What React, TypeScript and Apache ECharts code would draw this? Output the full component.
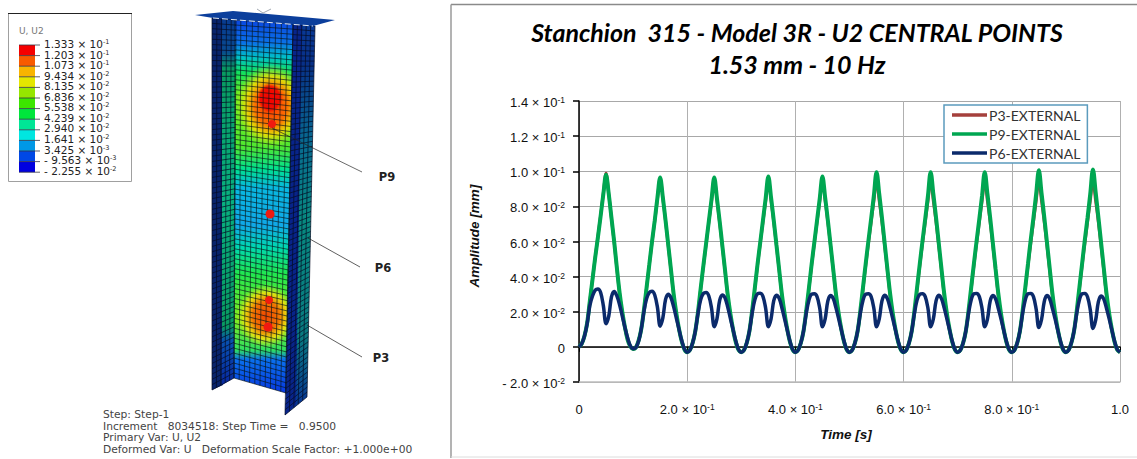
import React, { useEffect, useRef } from "react";
import * as echarts from "echarts";

const STEP = 0.005;
const P3_E3 = [
  0, 1.8, 6, 13.5, 26, 38.5, 51, 63, 75, 87.5, 98.8, 87, 73, 59.5, 44.5, 30.5, 19.5, 10.5, 3.8, 0.2, -1.2,
  -0.4, 3.5, 10, 21, 33.8, 46.8, 59.5, 71.5, 84, 96.2, 84.5, 71.5, 57.5, 43.5, 29.5, 18.5, 9.6, 3, -1.5, -3,
  -1.8, 2.2, 9, 20, 33.2, 46, 58.5, 71, 83, 95.6, 83.5, 70.5, 57, 43, 29, 18, 9.2, 2.5, -1.8, -3,
  -1.8, 2.2, 9, 20.2, 33.2, 46.5, 59, 71, 83, 95.5, 83.5, 71, 57.5, 43.5, 29.5, 18.5, 9.6, 2.7, -1.7, -3,
  -1.8, 2.2, 9, 20.2, 33, 46.5, 59, 71, 83, 95, 83.5, 71, 57.5, 43.5, 29.5, 18.5, 9.6, 2.7, -1.7, -3,
  -1.8, 2.2, 9, 20.2, 33, 46.5, 59, 71, 83, 94.5, 83, 71, 57.5, 43.5, 29.5, 18.5, 9.6, 2.7, -1.7, -3,
  -1.8, 2.2, 9, 20.2, 33, 46.5, 59, 71, 83, 94.5, 83, 71, 57.5, 43.5, 29.5, 18.5, 9.6, 2.7, -1.7, -3,
  -1.8, 2.2, 9, 20.2, 33, 46.5, 59, 71, 83, 94.2, 83, 71, 57.5, 43.5, 29.5, 18.5, 9.6, 2.7, -1.7, -3,
  -1.8, 2.2, 9, 20.2, 33, 46.5, 59, 71, 83, 94.5, 83, 71, 57.5, 43.5, 29.5, 18.5, 9.6, 2.7, -1.7, -3,
  -1.8, 2.2, 9, 20.2, 33, 46.5, 59, 71, 83, 94.2, 83, 71, 57.5, 43.5, 29.5, 18.5, 9.6, 2.7, -1.7, -3,
];
const P9_E3 = [
  0, 1.8, 6, 13.5, 26, 38.5, 51, 62.5, 74.5, 87, 98, 87, 73.5, 60, 45, 31, 20, 11, 4, 0.2, -1.2,
  -0.4, 3.5, 10, 21, 34, 47, 60, 72, 85, 96.4, 85, 72, 58, 44, 30, 19, 10, 3, -1.5, -3,
  -1.8, 2.2, 9, 20, 33.5, 46.5, 59, 71.5, 84, 96.4, 84.5, 71.5, 57.5, 43.5, 29.5, 18.5, 9.5, 2.5, -1.8, -3,
  -1.8, 2.2, 9, 20.5, 33.5, 47, 59.5, 72, 84.5, 97, 85, 72, 58, 44, 30, 19, 10, 2.8, -1.7, -3,
  -1.8, 2.2, 9, 20.5, 33.5, 47, 59.5, 72, 84.5, 97, 85, 72, 58, 44, 30, 19, 10, 2.8, -1.7, -3,
  -1.8, 2.2, 9, 20.5, 34, 47.5, 60.5, 73, 86, 99.5, 87, 73.5, 59, 44.5, 30.5, 19, 10, 2.8, -1.7, -3,
  -1.8, 2.2, 9, 20.5, 34, 47.5, 60.5, 73, 86, 99.5, 87, 73.5, 59, 44.5, 30.5, 19, 10, 2.8, -1.7, -3,
  -1.8, 2.2, 9, 20.5, 34, 47.5, 60.5, 73, 86, 99.5, 87, 73.5, 59, 44.5, 30.5, 19, 10, 2.8, -1.7, -3,
  -1.8, 2.2, 9, 20.5, 34, 47.5, 61, 73.5, 87, 100.5, 87.5, 74, 59.5, 45, 30.5, 19, 10, 2.8, -1.7, -3,
  -1.8, 2.2, 9, 20.5, 34, 47.5, 61, 73.5, 87, 101, 88, 74, 59.5, 45, 30.5, 19, 10, 2.8, -1.7, -3,
];
const P6_E3 = [
  0, 1.8, 6, 13, 23.5, 29, 32.3, 33, 31, 23.5, 13.2, 17.5, 28.5, 31.5, 29, 24, 17.5, 11, 5, 0.5, -1,
  -0.4, 3, 10, 20, 27.5, 31, 31.7, 29.5, 22.5, 11.8, 16.5, 27, 30, 28, 22.8, 16.3, 9.8, 3.5, -1.2, -3,
  -1.8, 2.2, 9, 19, 27, 30.5, 31, 29, 22, 11.5, 16, 26.5, 29.6, 27.8, 22.5, 16, 9.5, 3.2, -1.5, -3,
  -1.8, 2.2, 9, 19, 26.8, 30.2, 30.5, 28.8, 22, 11.5, 16, 26.3, 29.4, 27.6, 22.3, 16, 9.5, 3.2, -1.5, -3,
  -1.8, 2.2, 9, 19, 26.6, 30, 30.2, 28.6, 22, 11.5, 16, 26.2, 29.2, 27.5, 22.2, 16, 9.5, 3.2, -1.5, -3,
  -1.8, 2.2, 9, 19, 26.6, 30, 30.2, 28.6, 22, 11.5, 16, 26.2, 29.4, 27.5, 22.2, 16, 9.5, 3.2, -1.5, -3,
  -1.8, 2.2, 9, 19, 26.8, 30, 30.3, 28.6, 22, 11.5, 16, 26.2, 29.4, 27.5, 22.2, 16, 9.5, 3.2, -1.5, -3,
  -1.8, 2.2, 9, 19, 26.8, 30.2, 30.4, 28.6, 21.8, 11.4, 15.8, 26, 29.2, 27.4, 22, 16, 9.5, 3.2, -1.5, -3,
  -1.8, 2.2, 9, 19, 26.8, 30.2, 30.4, 28.6, 21.6, 11, 15.6, 25.8, 29.2, 27.4, 22, 16, 9.5, 3.2, -1.5, -3,
  -1.8, 2.2, 9, 19, 26.8, 30.2, 30.4, 28.4, 21.2, 10.5, 15.2, 25.6, 29, 27.2, 22, 16, 9.5, 3.2, -1.5, -3,
];
const Y_TICKS = ["- 2.0 × 10|-2", "0", "2.0 × 10|-2", "4.0 × 10|-2", "6.0 × 10|-2", "8.0 × 10|-2", "1.0 × 10|-1", "1.2 × 10|-1", "1.4 × 10|-1"];
const X_TICKS = ["0", "2.0 × 10|-1", "4.0 × 10|-1", "6.0 × 10|-1", "8.0 × 10|-1", "1.0"];

const BAR_LABELS = [
  ["1.333 × 10", "-1"], ["1.203 × 10", "-1"], ["1.073 × 10", "-1"], ["9.434 × 10", "-2"], ["8.135 × 10", "-2"],
  ["6.836 × 10", "-2"], ["5.538 × 10", "-2"], ["4.239 × 10", "-2"], ["2.940 × 10", "-2"], ["1.641 × 10", "-2"],
  ["3.425 × 10", "-3"], ["- 9.563 × 10", "-3"], ["- 2.255 × 10", "-2"],
];
const BAR_COLORS = ["#f50000", "#f85a00", "#f8b400", "#e4e600", "#96e600", "#3ce600", "#00e63c", "#00e696", "#00e6e0", "#0098e6", "#0048e6", "#0000e0"];
const CAPTION = [
  "Step: Step-1",
  "Increment   8034518: Step Time =   0.9500",
  "Primary Var: U, U2",
  "Deformed Var: U   Deformation Scale Factor: +1.000e+00",
];
const CAPTION_Y = [414, 426, 437, 449];

const toSeries = (vals: number[]) => vals.map((v, i) => [i * STEP, v / 1000]);

function tickRich(s: string) {
  const [a, b] = s.split("|");
  return b ? `{b|${a}}{s|${b}}` : `{b|${a}}`;
}

function meshLines(tl: number[], tr: number[], bl: number[], br: number[], cols: number, rows: number, color: string, opacity: number) {
  const out: any[] = [];
  const mix = (p: number[], q: number[], t: number) => [p[0] + (q[0] - p[0]) * t, p[1] + (q[1] - p[1]) * t];
  for (let i = 0; i <= cols; i++) {
    const t = i / cols;
    const a = mix(tl, tr, t), b = mix(bl, br, t);
    out.push({ type: "line", silent: true, shape: { x1: a[0], y1: a[1], x2: b[0], y2: b[1] }, style: { stroke: color, lineWidth: 1, opacity } });
  }
  for (let j = 0; j <= rows; j++) {
    const t = j / rows;
    const a = mix(tl, bl, t), b = mix(tr, br, t);
    out.push({ type: "line", silent: true, shape: { x1: a[0], y1: a[1], x2: b[0], y2: b[1] }, style: { stroke: color, lineWidth: 1, opacity } });
  }
  return out;
}

const vgrad = (stops: [number, string][]) => ({
  type: "linear", x: 0, y: 0, x2: 0, y2: 1,
  colorStops: stops.map(([offset, color]) => ({ offset, color })),
});
const rgrad = (stops: [number, string][]) => ({
  type: "radial", x: 0.5, y: 0.5, r: 0.5,
  colorStops: stops.map(([offset, color]) => ({ offset, color })),
});

function hot(cx: number, cy: number, rx: number, ry: number, stops: [number, string][]) {
  return { type: "ellipse", silent: true, shape: { cx, cy, rx, ry }, style: { fill: rgrad(stops) } };
}

function stanchion() {
  const webStops: [number, string][] = [
    [0, "#0a46e0"], [0.06, "#0a70e8"], [0.1, "#00c0c8"], [0.14, "#10e060"], [0.2, "#70ee20"], [0.34, "#50e830"],
    [0.4, "#00e090"], [0.45, "#08b8e0"], [0.55, "#10a8e8"], [0.61, "#00d8b0"], [0.68, "#20e850"], [0.8, "#80ee20"],
    [0.885, "#30e060"], [0.91, "#0a70ee"], [1, "#0838e0"],
  ];
  const flangeL: [number, string][] = [[0, "#083a90"], [0.09, "#084a90"], [0.14, "#089a60"], [0.5, "#08b080"], [0.84, "#089a60"], [0.88, "#0850b0"], [1, "#0828a0"]];
  const flangeR: [number, string][] = [[0, "#083a98"], [0.1, "#083088"], [0.3, "#086a90"], [0.5, "#088a80"], [0.8, "#087a80"], [1, "#082c98"]];
  return [
    { type: "polygon", silent: true, shape: { points: [[212, 18], [225, 18], [223, 385], [212, 390]] }, style: { fill: "#08246c" } },
    { type: "polygon", silent: true, shape: { points: [[222, 18], [236, 20], [234, 378], [222, 385]] }, style: { fill: vgrad(flangeL) } },
    { type: "polygon", silent: true, shape: { points: [[235, 20], [293, 24], [286, 393], [234, 378]] }, style: { fill: vgrad(webStops) } },
    hot(271, 106, 36, 42, [[0, "rgba(255,50,0,1)"], [0.45, "rgba(255,110,0,0.98)"], [0.7, "rgba(250,220,0,0.85)"], [1, "rgba(190,240,30,0)"]]),
    hot(270, 98, 13, 15, [[0, "rgba(245,0,0,1)"], [0.75, "rgba(240,10,0,0.95)"], [1, "rgba(240,40,0,0)"]]),
    hot(266, 316, 30, 32, [[0, "rgba(240,70,0,1)"], [0.45, "rgba(245,115,0,0.98)"], [0.72, "rgba(250,225,10,0.85)"], [1, "rgba(190,240,30,0)"]]),
    { type: "polygon", silent: true, shape: { points: [[293, 24], [315, 26], [307, 397], [285, 415], [286, 393]] }, style: { fill: vgrad(flangeR) } },
    { type: "polygon", silent: true, shape: { points: [[293, 24], [302, 25], [296, 404], [285, 415], [286, 393]] }, style: { fill: "#08248a" } },
    ...meshLines([212, 18], [236, 20], [212, 390], [234, 378], 5, 70, "#040c24", 0.7),
    ...meshLines([235, 20], [293, 24], [234, 378], [286, 393], 10, 72, "#081418", 0.65),
    ...meshLines([293, 24], [315, 26], [285, 415], [307, 397], 5, 74, "#040c24", 0.7),
    { type: "polygon", silent: true, shape: { points: [[195, 15], [233, 11], [335, 20], [313, 26], [213, 18]] }, style: { fill: "#0c3f9c" } },
    { type: "polyline", silent: true, shape: { points: [[213, 18], [313, 26]] }, style: { stroke: "#dfe8f5", lineWidth: 1, fill: "none", lineDash: [6, 3] } },
    { type: "polyline", silent: true, shape: { points: [[257, 9], [263, 13], [271, 9]] }, style: { stroke: "#8a93a0", lineWidth: 0.8, fill: "none" } },
    ...[[272, 124, 4], [270, 214, 4.5], [269, 300, 4], [268, 327, 4.5]].map(([cx, cy, r]) => ({
      type: "circle", silent: true, shape: { cx, cy, r }, style: { fill: "#f01a10" },
    })),
    { type: "line", silent: true, shape: { x1: 272, y1: 128, x2: 362, y2: 172 }, style: { stroke: "#222", lineWidth: 0.9, opacity: 0.75 } },
    { type: "line", silent: true, shape: { x1: 308, y1: 238, x2: 360, y2: 267 }, style: { stroke: "#222", lineWidth: 0.9, opacity: 0.8 } },
    { type: "line", silent: true, shape: { x1: 307, y1: 325, x2: 362, y2: 357 }, style: { stroke: "#222", lineWidth: 0.9, opacity: 0.8 } },
    ...[["P9", 387, 177], ["P6", 383, 268], ["P3", 381, 358]].map(([t, x, y]) => ({
      type: "text", silent: true, x, y,
      style: { text: t, fill: "#222", font: "bold 11.5px 'DejaVu Sans'", align: "center", verticalAlign: "middle" },
    })),
  ];
}

function colorBar() {
  const top = 45, h = 10.6;
  return [
    { type: "rect", silent: true, shape: { x: 8.5, y: 13.5, width: 123, height: 168 }, style: { fill: "#fff", stroke: "#a0a0a0", lineWidth: 1 } },
    { type: "line", silent: true, shape: { x1: 8, y1: 13.5, x2: 132, y2: 13.5 }, style: { stroke: "#222", lineWidth: 1 } },
    { type: "text", silent: true, x: 19, y: 31, style: { text: "U, U2", fill: "#777", font: "9px 'DejaVu Sans'", verticalAlign: "middle" } },
    ...BAR_COLORS.map((c, i) => ({ type: "rect", silent: true, shape: { x: 19, y: top + i * h, width: 16, height: h }, style: { fill: c } })),
    ...BAR_LABELS.map((_, i) => ({ type: "line", silent: true, shape: { x1: 19, y1: top + i * h, x2: 40, y2: top + i * h }, style: { stroke: "#334", lineWidth: 0.8 } })),
    ...BAR_LABELS.map(([a, b], i) => ({
      type: "text", silent: true, x: 44, y: 44 + i * 10.55,
      style: {
        text: `{a|${a}}{b|${b}}`, verticalAlign: "middle",
        rich: {
          a: { fontFamily: "DejaVu Sans", fontSize: 10.5, fill: "#222", lineHeight: 12 },
          b: { fontFamily: "DejaVu Sans", fontSize: 6.5, fill: "#222", padding: [0, 0, 4, 0], lineHeight: 12 },
        },
      },
    })),
  ];
}

function caption() {
  return CAPTION.map((t, i) => ({
    type: "text", silent: true, x: 103, y: CAPTION_Y[i],
    style: { text: t, fill: "#444", font: "10.7px 'DejaVu Sans'", verticalAlign: "middle" },
  }));
}

export default function App() {
  const ref = useRef<HTMLDivElement>(null);
  useEffect(() => {
    const chart = echarts.init(ref.current!, undefined, { renderer: "svg" });
    const axisRich = {
      b: { fontFamily: "Liberation Sans", fontSize: 13, color: "#111", lineHeight: 15 },
      s: { fontFamily: "Liberation Sans", fontSize: 8.5, color: "#111", padding: [0, 0, 5, 0], lineHeight: 15 },
    };
    const seriesBase = { type: "line", showSymbol: false, smooth: 0.35, silent: true, xAxisIndex: 0, yAxisIndex: 0 };
    const axisNameFont = "italic bold 13.5px 'Liberation Sans'";
    chart.setOption({
      animation: false,
      backgroundColor: "#fff",
      title: {
        text: "Stanchion  315 - Model 3R - U2 CENTRAL POINTS\n1.53 mm - 10 Hz",
        left: 792, top: 11, textAlign: "center",
        textStyle: { fontFamily: "Lato", fontWeight: "bold", fontStyle: "italic", fontSize: 25, color: "#000", lineHeight: 32 },
      },
      grid: { left: 579, top: 101, width: 541, height: 281, containLabel: false },
      legend: {
        left: 944, top: 105, width: 145, orient: "vertical", itemWidth: 35, itemHeight: 3.5, itemGap: 5,
        padding: [3, 7, 3, 8], backgroundColor: "#fff", borderColor: "#5b9bbd", borderWidth: 1.5, borderRadius: 0,
        icon: "rect",
        textStyle: { fontFamily: "Lato", fontSize: 14, color: "#333", padding: [0, 0, 0, -3] },
        data: ["P3-EXTERNAL", "P9-EXTERNAL", "P6-EXTERNAL"],
      },
      xAxis: [
        {
          type: "value", min: 0, max: 1, interval: 0.2, position: "bottom",
          axisLine: { onZero: false, lineStyle: { color: "#bdbdbd", width: 1.5 } },
          axisTick: { show: false },
          splitLine: { show: true, lineStyle: { color: "#b0b0b0", width: 1 } },
          axisLabel: {
            margin: 20, rich: axisRich,
            formatter: (v: number) => tickRich(X_TICKS[Math.round(v / 0.2)]),
          },
        },
        {
          type: "value", min: 0, max: 1, interval: 0.2, position: "top",
          axisLine: { onZero: true, lineStyle: { color: "#000", width: 1.5 } },
          axisTick: { show: true, inside: true, length: 5, lineStyle: { color: "#000", width: 1 } },
          axisLabel: { show: false }, splitLine: { show: false },
        },
      ],
      yAxis: {
        type: "value", min: -0.02, max: 0.14, interval: 0.02, position: "left",
        axisLine: { onZero: false, lineStyle: { color: "#000", width: 1.5 } },
        axisTick: { show: true, length: 6, lineStyle: { color: "#000", width: 1.5 } },
        splitLine: { show: true, lineStyle: { color: "#a8a8a8", width: 1 } },
        axisLabel: {
          margin: 14, rich: axisRich, padding: [3, 0, 0, 0],
          formatter: (v: number) => tickRich(Y_TICKS[Math.round((v + 0.02) / 0.02)]),
        },
      },
      series: [
        { ...seriesBase, name: "P3-EXTERNAL", data: toSeries(P3_E3), itemStyle: { color: "#a5403c" }, lineStyle: { color: "#a5403c", width: 3 } },
        { ...seriesBase, name: "P9-EXTERNAL", data: toSeries(P9_E3), itemStyle: { color: "#00a651" }, lineStyle: { color: "#00a651", width: 4 } },
        { ...seriesBase, name: "P6-EXTERNAL", data: toSeries(P6_E3), itemStyle: { color: "#0b2a6b" }, lineStyle: { color: "#0b2a6b", width: 3.5 } },
      ],
      graphic: [
        { type: "line", silent: true, shape: { x1: 451, y1: 4.5, x2: 1137, y2: 4.5 }, style: { stroke: "#8a8a8a", lineWidth: 1.5 } },
        { type: "line", silent: true, shape: { x1: 451, y1: 4.5, x2: 451, y2: 458 }, style: { stroke: "#9a9a9a", lineWidth: 1.5 } },
        { type: "line", silent: true, shape: { x1: 451, y1: 457, x2: 1137, y2: 457 }, style: { stroke: "#dcdcdc", lineWidth: 1 } },
        { type: "text", silent: true, x: 846, y: 434, style: { text: "Time [s]", font: axisNameFont, fill: "#111", align: "center", verticalAlign: "middle" } },
        { type: "text", silent: true, x: 474, y: 236, rotation: Math.PI / 2, style: { text: "Amplitude [mm]", font: axisNameFont, fill: "#111", align: "center", verticalAlign: "middle" } },
        ...colorBar(),
        ...stanchion(),
        ...caption(),
      ],
    });
    return () => chart.dispose();
  }, []);
  return <div ref={ref} style={{ position: "fixed", left: 0, top: 0, width: 1137, height: 459 }} />;
}
